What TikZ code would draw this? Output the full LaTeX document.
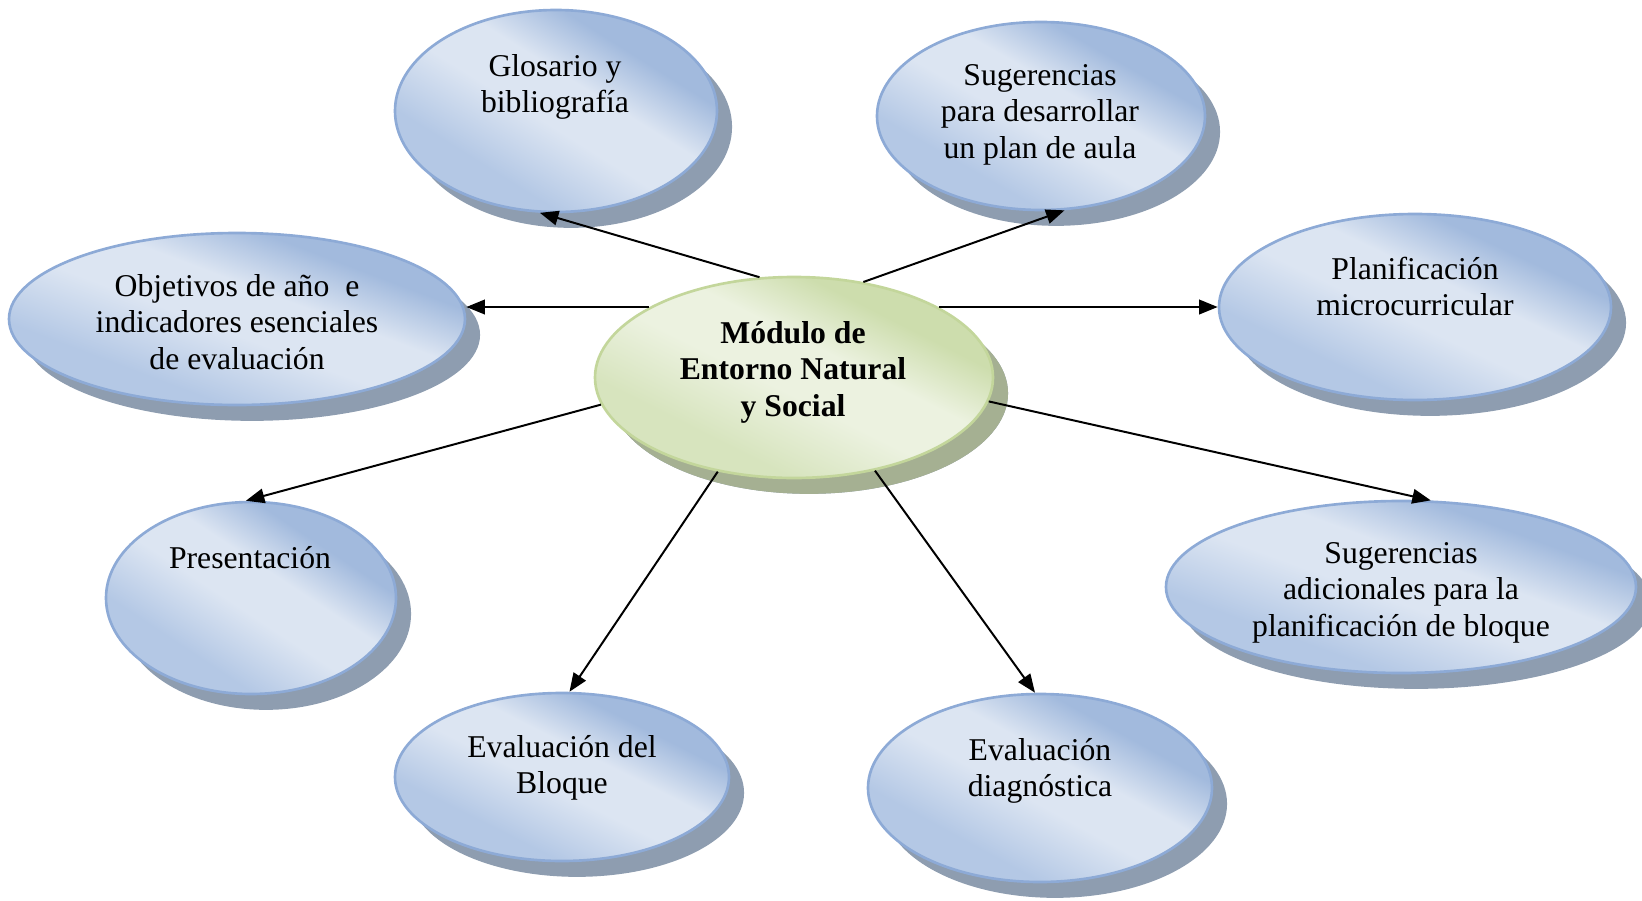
\documentclass[tikz,border=0pt]{standalone}
\usepackage{fontspec}
\setmainfont{Liberation Serif}
\usetikzlibrary{shapes.geometric,shadows,arrows.meta}
\definecolor{bdark}{RGB}{162,186,221}
\definecolor{bmid}{RGB}{180,200,229}
\definecolor{blight}{RGB}{220,229,242}
\definecolor{bborder}{RGB}{141,170,214}
\definecolor{bshadow}{RGB}{142,157,176}
\definecolor{gdark}{RGB}{205,221,173}
\definecolor{gmid}{RGB}{215,228,190}
\definecolor{glight}{RGB}{236,242,224}
\definecolor{gborder}{RGB}{195,214,155}
\definecolor{gshadow}{RGB}{165,176,146}
\pgfdeclarehorizontalshading{bluesh}{100bp}{color(0bp)=(bmid);color(33bp)=(bmid);color(47bp)=(blight);color(57bp)=(blight);color(68bp)=(bdark);color(100bp)=(bdark)}
\pgfdeclarehorizontalshading{greensh}{100bp}{color(0bp)=(gmid);color(33bp)=(gmid);color(47bp)=(glight);color(57bp)=(glight);color(68bp)=(gdark);color(100bp)=(gdark)}
\newcommand{\mlines}[1]{\begin{tabular}[t]{@{}c@{}}#1\end{tabular}}
\tikzset{
  bubble/.style n args={3}{ellipse, inner sep=0pt,
    minimum width=#1*0.757pt, minimum height=#2*0.757pt,
    draw=bborder, line width=1pt, shading=bluesh, shading angle=#3,
    drop shadow={shadow xshift=5.7pt, shadow yshift=-6pt, fill=bshadow, opacity=1}},
  hub/.style n args={3}{bubble={#1}{#2}{#3}, draw=gborder, shading=greensh,
    drop shadow={shadow xshift=5.7pt, shadow yshift=-6pt, fill=gshadow, opacity=1}},
  txt/.style={anchor=base, inner sep=0pt, font=\fontsize{12}{14}\selectfont},
  arr/.style={-{Triangle[length=7pt,width=5.5pt]}, line width=0.75pt, black},
}
\begin{document}
\begin{tikzpicture}[x=0.3785pt,y=-0.3785pt]
\path[use as bounding box] (0,0) rectangle (1642,901);
% bubbles
\node[bubble={161}{101}{57.9}] (glo) at (556,111) {};
\node[bubble={164}{94}{60.2}] (sug) at (1041,116) {};
\node[bubble={228}{86}{69.3}] (obj) at (237,319) {};
\node[bubble={196}{93}{64.6}] (pla) at (1415,307) {};
\node[hub={199}{100.5}{63.2}] (mod) at (794,377.5) {};
\node[bubble={145}{96}{56.5}] (pre) at (251,598) {};
\node[bubble={167}{84}{63.3}] (blo) at (562,777) {};
\node[bubble={172}{94}{61.3}] (dia) at (1040,788) {};
\node[bubble={235}{86}{69.9}] (adi) at (1401,587) {};
% texts
\node[txt] (glo-t) at (555,76) {\mlines{Glosario y\\bibliografía}};
\node[txt] (sug-t) at (1040,85) {\mlines{Sugerencias\\para desarrollar\\un plan de aula}};
\node[txt] (obj-t) at (237,296) {\mlines{Objetivos de año~ e\\indicadores esenciales\\de evaluación}};
\node[txt] (pla-t) at (1415,279) {\mlines{Planificación\\microcurricular}};
\node[txt,font=\fontsize{12}{14}\selectfont\bfseries] (mod-t) at (793,343) {\mlines{Módulo de\\Entorno Natural\\y Social}};
\node[txt] (pre-t) at (250,568) {Presentación};
\node[txt] (blo-t) at (562,757) {\mlines{Evaluación del\\Bloque}};
\node[txt] (dia-t) at (1040,760) {\mlines{Evaluación\\diagnóstica}};
\node[txt] (adi-t) at (1401,563) {\mlines{Sugerencias\\adicionales para la\\planificación de bloque}};
% connectors
\draw[arr] (mod.109.7) -- (glo.261.3);
\draw[arr] (mod.54.9) -- (sug.284);
\draw[arr] (mod.154) -- (mod.154 -| obj.east);
\draw[arr] (mod.26) -- (mod.26 -| pla.west);
\draw[arr] (mod.188.6) -- (pre.93);
\draw[arr] (mod.231.7) -- (blo.85.9);
\draw[arr] (mod.311) -- (dia.93);
\draw[arr] (mod.353) -- (adi.71.6);
\end{tikzpicture}
\end{document}
